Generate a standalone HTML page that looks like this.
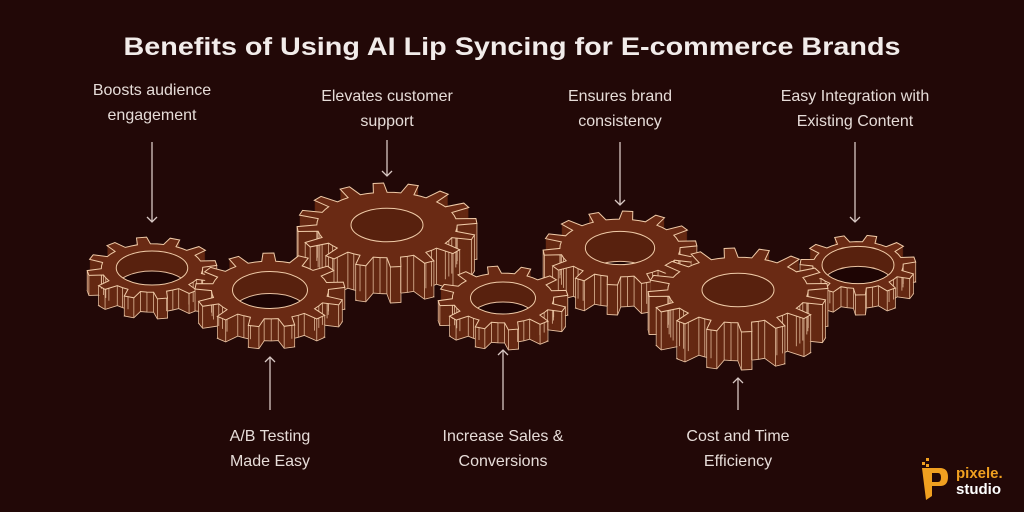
<!DOCTYPE html>
<html><head><meta charset="utf-8"><style>
html,body{margin:0;padding:0;background:#220807;}
svg{display:block}
</style></head><body>
<svg id="s" width="1024" height="512" viewBox="0 0 1024 512" xmlns="http://www.w3.org/2000/svg">
<rect width="1024" height="512" fill="#220807"/>
<defs>
<marker id="ah" markerWidth="12" markerHeight="12" refX="6" refY="6" orient="auto" markerUnits="userSpaceOnUse">
<path d="M1,1 L6,6 L1,11" fill="none" stroke="#d8c8c4" stroke-width="1.3"/>
</marker>
</defs>
<g font-family="Liberation Sans, sans-serif" fill="#f2ecea">
<text x="512" y="55" font-size="25" font-weight="bold" text-anchor="middle" textLength="777" lengthAdjust="spacingAndGlyphs">Benefits of Using AI Lip Syncing for E-commerce Brands</text>
</g>
<g font-family="Liberation Sans, sans-serif" font-size="16" fill="#e6dcd8" text-anchor="middle">
<text x="152" y="95">Boosts audience</text><text x="152" y="120">engagement</text>
<text x="387" y="101">Elevates customer</text><text x="387" y="126">support</text>
<text x="620" y="101">Ensures brand</text><text x="620" y="126">consistency</text>
<text x="855" y="101">Easy Integration with</text><text x="855" y="126">Existing Content</text>
<text x="270" y="441">A/B Testing</text><text x="270" y="466">Made Easy</text>
<text x="503" y="441">Increase Sales &amp;</text><text x="503" y="466">Conversions</text>
<text x="738" y="441">Cost and Time</text><text x="738" y="466">Efficiency</text>
</g>
<g stroke="#d8c8c4" stroke-width="1.3" fill="none">
<line x1="152" y1="142" x2="152" y2="222" marker-end="url(#ah)"/>
<line x1="387" y1="140" x2="387" y2="176" marker-end="url(#ah)"/>
<line x1="620" y1="142" x2="620" y2="205" marker-end="url(#ah)"/>
<line x1="855" y1="142" x2="855" y2="222" marker-end="url(#ah)"/>
<line x1="270" y1="410" x2="270" y2="357" marker-end="url(#ah)"/>
<line x1="503" y1="410" x2="503" y2="350" marker-end="url(#ah)"/>
<line x1="738" y1="410" x2="738" y2="378" marker-end="url(#ah)"/>
</g>
<g id="gears"></g>
<g font-family="Liberation Sans, sans-serif" font-weight="bold">
<rect x="922" y="462" width="3" height="3" fill="#f0a020"/><rect x="926" y="458" width="3" height="3" fill="#f0a020"/><rect x="926" y="464" width="3" height="3" fill="#f0a020"/>
<path d="M922,468 h18 q8,0 8,9 q0,9 -8,9 h-8 v10 l-6,4 z M932,473 v9 h6 q3,0 3,-4.5 q0,-4.5 -3,-4.5 z" fill="#f0a020" fill-rule="evenodd"/>
<text x="956" y="478" font-size="15" fill="#f0a020">pixele.</text>
<text x="956" y="494" font-size="15" fill="#ffffff">studio</text>
</g>
</svg>
<script>
(function(){
var NS="http://www.w3.org/2000/svg",G=document.getElementById("gears"),defs=document.querySelector("defs");
var gears=[
 [387,225,90,42,16,36,0.40],
 [620,248,77,37,14,30,0.45],
 [152,268,65,31,12,20,0.55],
 [858,265,58,30,11,20,0.62],
 [270,290,75,37,13,22,0.50],
 [503,298,65,32,12,20,0.50],
 [738,290,90,42,16,38,0.40]
];
function el(n,a,p){var e=document.createElementNS(NS,n);for(var k in a)e.setAttribute(k,a[k]);(p||G).appendChild(e);return e;}
gears.forEach(function(g,i){
 var cx=g[0],cy=g[1],rx=g[2],ry=g[3],n=g[4],h=g[5],hr=g[6];
 var pts=[],root=0.78,step=2*Math.PI/n;
 for(var t=0;t<n;t++){
  var a=t*step+0.1;
  var f=[[0,root],[0.25,root],[0.35,1],[0.65,1],[0.75,root]];
  f.forEach(function(q){var an=a+q[0]*step;pts.push([Math.cos(an)*q[1],Math.sin(an)*q[1]]);});
 }
 function poly(dy){return pts.map(function(p){return (cx+p[0]*rx).toFixed(1)+","+(cy+p[1]*ry+dy).toFixed(1);}).join(" ");}
 var gg=el("g",{});
 el("polygon",{points:poly(h),fill:"#5a220f",stroke:"#e8c0a0","stroke-width":0.9},gg);
 for(var d=h-1;d>0;d-=1)el("polygon",{points:poly(d),fill:"#652812"},gg);
 pts.forEach(function(p){if(p[1]>-0.15){var x=cx+p[0]*rx,y=cy+p[1]*ry;el("line",{x1:x,y1:y,x2:x,y2:y+h,stroke:"#e0b898","stroke-width":0.8},gg);}});
 el("polygon",{points:poly(0),fill:"#6a2a14",stroke:"#f0cba8","stroke-width":1},gg);
 var cid="hc"+i,cp=el("clipPath",{id:cid},defs);
 el("ellipse",{cx:cx,cy:cy,rx:rx*hr,ry:ry*hr},cp);
 var hg=el("g",{"clip-path":"url(#"+cid+")"},gg);
 el("rect",{x:cx-rx,y:cy-ry,width:2*rx,height:2*ry,fill:"#58210e"},hg);
 el("ellipse",{cx:cx,cy:cy+h,rx:rx*hr,ry:ry*hr,fill:"#1e0504",stroke:"#e8c0a0","stroke-width":1},hg);
 el("ellipse",{cx:cx,cy:cy,rx:rx*hr,ry:ry*hr,fill:"none",stroke:"#f0cba8","stroke-width":1},gg);
});
})();
</script>
</body></html>
